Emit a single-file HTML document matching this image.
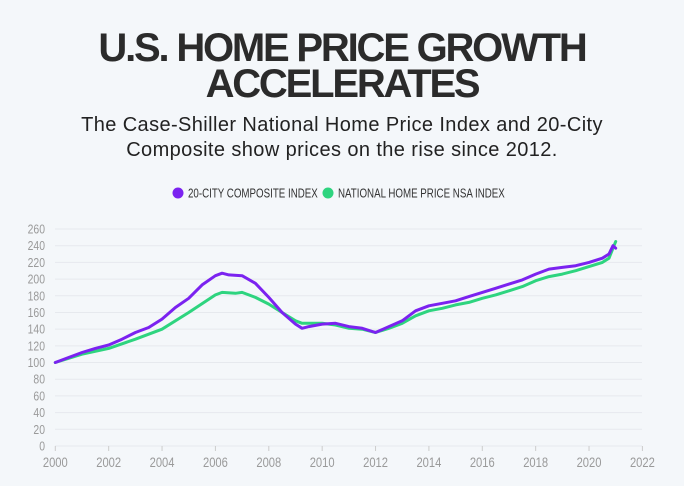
<!DOCTYPE html>
<html><head><meta charset="utf-8"><style>
body{margin:0;width:684px;height:486px;background:#f4f7fa;overflow:hidden;font-family:"Liberation Sans",sans-serif;}
#t{position:absolute;left:0;width:684px;text-align:center;color:#2b2b2b;font-weight:bold;font-size:40px;line-height:36px;top:30px;letter-spacing:-2.2px}
#s{position:absolute;left:0;width:684px;text-align:center;color:#222;font-size:20px;line-height:25px;top:113px;letter-spacing:0.4px}
svg{position:absolute;left:0;top:0}
</style></head><body>
<div id="t">U.S. HOME PRICE GROWTH<br>ACCELERATES</div>
<div id="s">The Case-Shiller National Home Price Index and 20-City<br>Composite show prices on the rise since 2012.</div>
<svg id="c" width="684" height="486"></svg>
<script>
const xTicks=[2000,2002,2004,2006,2008,2010,2012,2014,2016,2018,2020,2022];
const yTicks=[0,20,40,60,80,100,120,140,160,180,200,220,240,260];
const cityYears=[2000,2000.5,2001,2001.5,2002,2002.5,2003,2003.5,2004,2004.5,2005,2005.5,2006,2006.25,2006.5,2007,2007.5,2008,2008.5,2009,2009.25,2009.5,2010,2010.5,2011,2011.5,2012,2012.5,2013,2013.5,2014,2014.5,2015,2015.5,2016,2016.5,2017,2017.5,2018,2018.5,2019,2019.5,2020,2020.5,2020.75,2020.9,2021];
const cityVals=[100,106,112,117,121,128,136,142,152,166,177,193,204,207,205,204,195,178,160,146,141,143,146,147,143,141,136,143,150,162,168,171,174,179,184,189,194,199,206,212,214,216,220,225,230,240,237];
const natYears=[2000,2001,2002,2003,2004,2005,2006,2006.25,2006.75,2007,2007.5,2008,2008.5,2009,2009.25,2010,2010.5,2011,2011.5,2012,2012.5,2013,2013.5,2014,2014.5,2015,2015.5,2016,2016.5,2017,2017.5,2018,2018.5,2019,2019.5,2020,2020.5,2020.75,2021];
const natVals=[100,110,117,128,140,160,181,184,183,184,178,170,160,150,147,147,145,141,140,136,141,147,156,162,165,169,172,177,181,186,191,198,203,206,210,215,220,225,245];
const NS="http://www.w3.org/2000/svg";
const svg=document.getElementById('c');
const X=v=>55.3+(v-2000)*(642.4-55.3)/22;
const Y=v=>446-v*(446-229)/260;
function mk(tag,attrs){const e=document.createElementNS(NS,tag);for(const k in attrs)e.setAttribute(k,attrs[k]);svg.appendChild(e);return e;}
yTicks.forEach(t=>{
 const g=mk('line',{x1:55,x2:642,y1:Y(t),y2:Y(t),stroke:'#e6e9ee','stroke-width':1});
 
 
 const l=mk('text',{x:45/0.8,y:Y(t)+4.5,'text-anchor':'end','font-size':13,fill:'#9a9a9a',transform:'scale(0.8,1)'});
 l.textContent=t;
 
 
});
xTicks.forEach(t=>{
 const tk=mk('line',{x1:X(t),x2:X(t),y1:446,y2:451,stroke:'#ccc'});
 
 
 const l=mk('text',{x:X(t)/0.8,y:467,'text-anchor':'middle','font-size':14,fill:'#9a9a9a',transform:'scale(0.8,1)'});
 l.textContent=t;
 
 
});
function line(xs,ys,col,name){
 const p=mk('path',{d:xs.map((x,i)=>(i?'L':'M')+X(x).toFixed(1)+' '+Y(ys[i]).toFixed(1)).join(''),fill:'none',stroke:col,'stroke-width':3,'stroke-linejoin':'round','stroke-linecap':'round'});
 
 
}
line(natYears,natVals,'#2ed47f','national-index-line');
line(cityYears,cityVals,'#7b22f0','composite-index-line');
const leg=[[178,'#7b22f0','20-CITY COMPOSITE INDEX','legend-composite'],[328,'#2ed47f','NATIONAL HOME PRICE NSA INDEX','legend-national']];
leg.forEach(([x,c,t,n])=>{
 const d=mk('circle',{cx:x,cy:193,r:5.5,fill:c});
 
 
 const l=mk('text',{x:(x+10)/0.75,y:197.5,'font-size':13,fill:'#333',transform:'scale(0.75,1)'});
 l.textContent=t;
 
 
});
</script>
</body></html>
